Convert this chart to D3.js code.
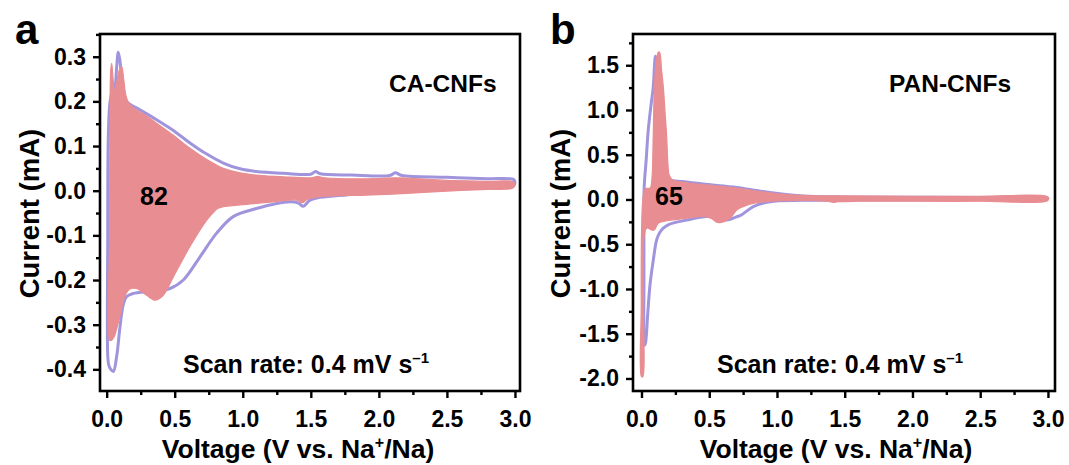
<!DOCTYPE html>
<html>
<head>
<meta charset="utf-8">
<script src="https://cdn.jsdelivr.net/npm/d3@7"></script>
<style>
  html, body { margin: 0; padding: 0; background: #fff; }
  svg text { font-family: "Liberation Sans", Arial, Helvetica, sans-serif; font-weight: bold; fill: #000; }
</style>
</head>
<body>
<svg id="fig" width="1069" height="465"></svg>
<script>
// ---- tick values ----
const voltageTicks = [0, 0.5, 1.0, 1.5, 2.0, 2.5, 3.0];
const voltageMinorTicks = [0.25, 0.75, 1.25, 1.75, 2.25, 2.75];
const caCurrentTicks = [-0.4, -0.3, -0.2, -0.1, 0.0, 0.1, 0.2, 0.3];
const caCurrentMinorTicks = [-0.35, -0.25, -0.15, -0.05, 0.05, 0.15, 0.25, 0.35];
const panCurrentTicks = [-2.0, -1.5, -1.0, -0.5, 0.0, 0.5, 1.0, 1.5];
const panCurrentMinorTicks = [-1.75, -1.25, -0.75, -0.25, 0.25, 0.75, 1.25, 1.75];

// ---- CV loops, [voltage V, current mA]; anodic branch then cathodic branch ----
// CA-CNFs, first cycle
const caCycleFirst = [
  [0.008,-0.37],[0.008,-0.1],[0.012,0.12],[0.025,0.2],[0.045,0.225],[0.061,0.233],[0.072,0.27],
  [0.085,0.31],[0.098,0.29],[0.115,0.235],[0.135,0.205],[0.159,0.196],[0.25,0.18],[0.367,0.159],
  [0.49,0.135],[0.612,0.107],[0.735,0.082],[0.857,0.062],[0.98,0.049],[1.10,0.043],[1.3,0.039],
  [1.5,0.037],[1.535,0.043],[1.57,0.038],[1.8,0.035],[2.08,0.034],[2.12,0.04],[2.17,0.034],
  [2.5,0.03],[2.8,0.027],[2.99,0.025],[3.0,0.018],[2.99,0.012],[2.5,0.003],[2.0,-0.005],
  [1.7,-0.011],[1.55,-0.016],[1.49,-0.022],[1.445,-0.035],[1.41,-0.028],[1.347,-0.025],
  [1.10,-0.04],[0.93,-0.058],[0.808,-0.095],[0.686,-0.148],[0.563,-0.2],[0.465,-0.219],
  [0.33,-0.225],[0.195,-0.23],[0.147,-0.237],[0.122,-0.255],[0.098,-0.305],[0.073,-0.372],
  [0.049,-0.405],[0.03,-0.4],[0.015,-0.39]
];
// CA-CNFs, envelope of the following cycles up to 82
const caCyclesLater = [
  [0.022,-0.335],[0.022,-0.1],[0.024,0.15],[0.03,0.27],[0.037,0.285],[0.046,0.255],[0.058,0.222],
  [0.075,0.245],[0.095,0.272],[0.11,0.278],[0.125,0.25],[0.14,0.215],[0.159,0.198],[0.195,0.186],
  [0.28,0.17],[0.367,0.151],[0.49,0.124],[0.612,0.095],[0.735,0.07],[0.857,0.05],[0.98,0.04],
  [1.10,0.035],[1.3,0.031],[1.5,0.029],[1.55,0.032],[1.6,0.029],[2.0,0.027],[2.12,0.029],
  [2.5,0.023],[2.8,0.021],[2.985,0.02],[3.0,0.013],[2.985,0.006],[2.8,0.003],[2.5,-0.001],
  [2.2,-0.006],[1.9,-0.01],[1.59,-0.013],[1.47,-0.02],[1.44,-0.027],[1.396,-0.021],[1.224,-0.025],
  [0.98,-0.032],[0.82,-0.039],[0.78,-0.05],[0.735,-0.066],[0.612,-0.125],[0.49,-0.193],
  [0.416,-0.234],[0.355,-0.245],[0.294,-0.234],[0.22,-0.219],[0.171,-0.22],[0.135,-0.235],
  [0.098,-0.28],[0.073,-0.31],[0.055,-0.327],[0.035,-0.335]
];
// PAN-CNFs, first cycle
const panCycleFirst = [
  [0.018,-1.6],[0.018,-1.0],[0.018,-0.3],[0.02,0.143],[0.035,0.45],[0.05,0.777],[0.07,1.05],
  [0.087,1.26],[0.096,1.5],[0.102,1.6],[0.112,1.55],[0.13,1.1],[0.15,0.6],[0.175,0.3],[0.21,0.22],
  [0.3,0.2],[0.456,0.172],[0.703,0.135],[0.85,0.1],[0.948,0.078],[1.19,0.04],[1.5,0.028],
  [2.0,0.025],[2.5,0.022],[2.99,0.022],[3.0,0.012],[2.99,0.004],[2.5,0.0],[2.0,-0.003],
  [1.5,-0.007],[1.19,-0.01],[0.948,-0.025],[0.825,-0.08],[0.74,-0.17],[0.70,-0.195],
  [0.629,-0.23],[0.56,-0.2],[0.48,-0.19],[0.334,-0.23],[0.2,-0.28],[0.161,-0.32],[0.135,-0.37],
  [0.112,-0.45],[0.085,-0.7],[0.063,-0.95],[0.045,-1.3],[0.03,-1.6],[0.022,-1.63]
];
// PAN-CNFs, envelope of the following cycles up to 65
const panCyclesLater = [
  [0.0,-1.98],[-0.002,-1.2],[0.0,-0.4],[0.01,0.0],[0.025,0.115],[0.045,0.125],[0.065,0.13],
  [0.078,0.25],[0.085,0.6],[0.092,1.1],[0.1,1.4],[0.112,1.58],[0.126,1.65],[0.135,1.64],
  [0.148,1.45],[0.161,1.26],[0.175,0.95],[0.186,0.70],[0.195,0.4],[0.205,0.27],[0.23,0.215],
  [0.3,0.195],[0.456,0.165],[0.703,0.128],[0.85,0.095],[0.948,0.075],[1.19,0.045],[1.5,0.04],
  [2.0,0.036],[2.5,0.036],[2.99,0.036],[3.005,0.01],[2.99,-0.018],[2.5,-0.02],[2.0,-0.02],
  [1.6,-0.02],[1.45,-0.025],[1.415,-0.032],[1.38,-0.022],[1.07,-0.012],[0.95,-0.02],
  [0.825,-0.043],[0.75,-0.08],[0.703,-0.117],[0.66,-0.2],[0.629,-0.235],[0.59,-0.255],
  [0.555,-0.255],[0.52,-0.215],[0.456,-0.19],[0.334,-0.21],[0.2,-0.235],[0.124,-0.266],
  [0.1,-0.33],[0.087,-0.345],[0.06,-0.33],[0.038,-0.32],[0.02,-0.4],[0.014,-1.2],[0.01,-1.98]
];

const firstColor = "#a095dd";
const laterColor = "#e88d92";

const panels = [
  {
    id: "a", letter: "a", name: "CA-CNFs", cycles: "82",
    first: caCycleFirst, later: caCyclesLater,
    yTicks: caCurrentTicks, yMinor: caCurrentMinorTicks,
    xDomain: [-0.049, 3.037], yDomain: [-0.4485, 0.3509],
    left: 100, right: 520, top: 34, bottom: 391,
    letterX: 15, nameX: 389, cycleX: 140, scanX: 183, xTitleX: 298, yTitleX: 39
  },
  {
    id: "b", letter: "b", name: "PAN-CNFs", cycles: "65",
    first: panCycleFirst, later: panCyclesLater,
    yTicks: panCurrentTicks, yMinor: panCurrentMinorTicks,
    xDomain: [-0.0627, 3.052], yDomain: [-2.140, 1.849],
    left: 633, right: 1055, top: 34, bottom: 391,
    letterX: 550, nameX: 889, cycleX: 655, scanX: 717, xTitleX: 836, yTitleX: 570
  }
];

const svg = d3.select("#fig");
const fmt = d => d3.format(".1f")(d).replace("\u2212", "-");

panels.forEach(p => {
  const g = svg.append("g");
  const x = d3.scaleLinear().domain(p.xDomain).range([p.left, p.right]);
  const y = d3.scaleLinear().domain(p.yDomain).range([p.bottom, p.top]);

  g.append("clipPath").attr("id", "clip-" + p.id)
    .append("rect")
    .attr("x", p.left).attr("y", p.top)
    .attr("width", p.right - p.left).attr("height", p.bottom - p.top);

  const loop = d3.line()
    .x(d => x(d[0])).y(d => y(d[1]))
    .curve(d3.curveCatmullRomClosed.alpha(0.5));

  const plot = g.append("g").attr("clip-path", `url(#clip-${p.id})`);
  plot.append("path")
    .attr("d", loop(p.first))
    .attr("fill", "none")
    .attr("stroke", firstColor)
    .attr("stroke-width", 3)
    .attr("stroke-linejoin", "round");
  plot.append("path")
    .attr("d", loop(p.later))
    .attr("fill", laterColor)
    .attr("stroke", laterColor)
    .attr("stroke-width", 1.2)
    .attr("stroke-linejoin", "round");

  // axes (ticks outward on left and bottom)
  const styleAxis = sel => {
    sel.attr("font-size", 23).attr("font-family", null);
    sel.select(".domain").remove();
    sel.selectAll(".tick line").attr("stroke", "#000").attr("stroke-width", 2.4);
  };
  g.append("g").attr("transform", `translate(${p.left},0)`)
    .call(d3.axisLeft(y).tickValues(p.yTicks).tickSize(7).tickPadding(7).tickFormat(fmt))
    .call(styleAxis);
  g.append("g").attr("transform", `translate(${p.left},0)`)
    .call(d3.axisLeft(y).tickValues(p.yMinor).tickSize(4).tickFormat(""))
    .call(styleAxis);
  g.append("g").attr("transform", `translate(0,${p.bottom})`)
    .call(d3.axisBottom(x).tickValues(voltageTicks).tickSize(7).tickPadding(12.5).tickFormat(fmt))
    .call(styleAxis);
  g.append("g").attr("transform", `translate(0,${p.bottom})`)
    .call(d3.axisBottom(x).tickValues(voltageMinorTicks).tickSize(4).tickFormat(""))
    .call(styleAxis);

  // frame
  g.append("rect")
    .attr("x", p.left).attr("y", p.top)
    .attr("width", p.right - p.left).attr("height", p.bottom - p.top)
    .attr("fill", "none").attr("stroke", "#000").attr("stroke-width", 2.6);

  // labels
  g.append("text").attr("x", p.letterX).attr("y", 44).attr("font-size", 42).text(p.letter);
  g.append("text").attr("x", p.nameX).attr("y", 91.5).attr("font-size", 24.5).text(p.name);
  g.append("text").attr("x", p.cycleX).attr("y", 205).attr("font-size", 25).text(p.cycles);

  const scan = g.append("text").attr("x", p.scanX).attr("y", 373).attr("font-size", 25);
  scan.append("tspan").text("Scan rate: 0.4 mV s");
  scan.append("tspan").attr("dy", -10).attr("font-size", 15).text("\u20131");

  const xt = g.append("text").attr("x", p.xTitleX).attr("y", 458)
    .attr("text-anchor", "middle").attr("font-size", 26.5);
  xt.append("tspan").text("Voltage (V vs. Na");
  xt.append("tspan").attr("dy", -10).attr("font-size", 16).text("+");
  xt.append("tspan").attr("dy", 10).text("/Na)");

  g.append("text")
    .attr("transform", `translate(${p.yTitleX},${(p.top + p.bottom) / 2 + 1}) rotate(-90)`)
    .attr("text-anchor", "middle").attr("font-size", 27.5)
    .text("Current (mA)");
});
</script>
</body>
</html>
